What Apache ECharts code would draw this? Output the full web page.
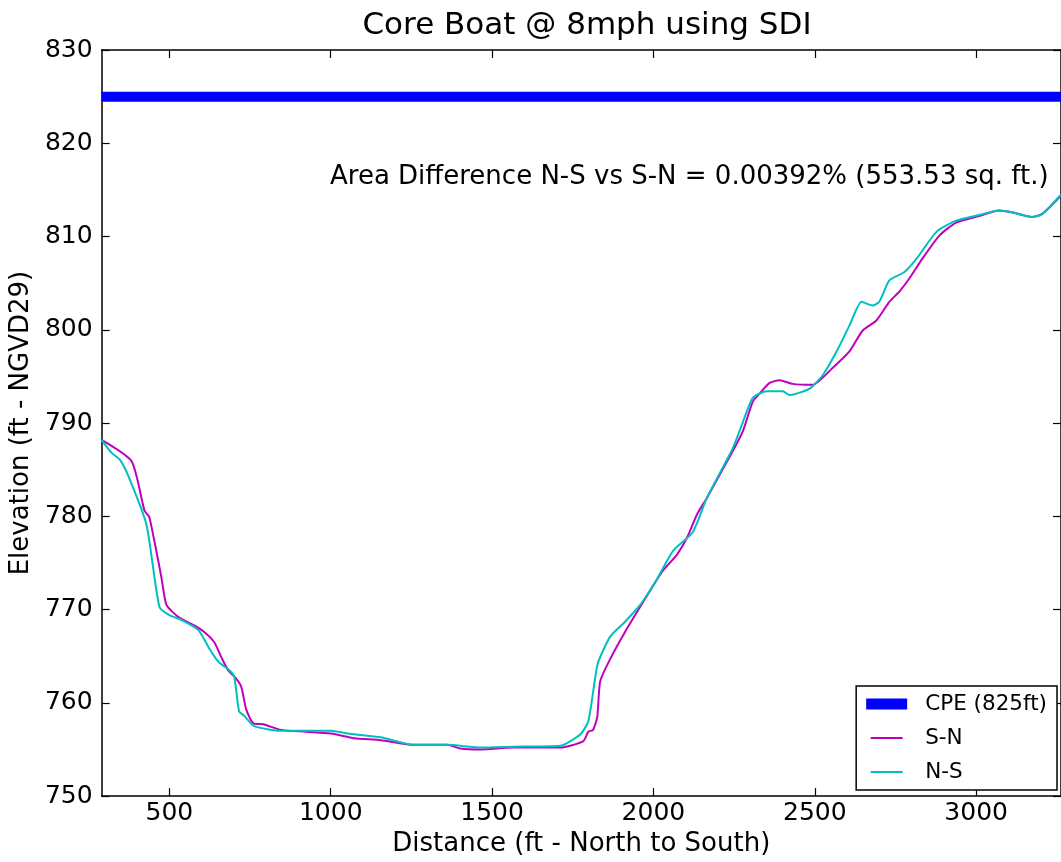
<!DOCTYPE html>
<html>
<head>
<meta charset="utf-8">
<script src="https://cdn.jsdelivr.net/npm/echarts@6/dist/echarts.min.js"></script>
<style>
html,body{margin:0;padding:0;background:#fff;}
#chart{width:1061px;height:862px;}
</style>
</head>
<body>
<div id="chart"></div>
<script>
// ---- data ----
const xTicks = [500, 1000, 1500, 2000, 2500, 3000];
const cpeLevel = 825;
const cpeRange = [290, 3263];
const snX = [290, 383, 423, 438, 475, 491, 528, 577, 608, 639, 661, 682, 707, 723, 738, 760, 791, 846, 1001, 1072, 1155, 1257, 1362, 1402, 1464, 1566, 1711, 1783, 1798, 1813, 1826, 1835, 1866, 1912, 1959, 2005, 2030, 2073, 2104, 2135, 2166, 2246, 2277, 2308, 2330, 2360, 2391, 2432, 2493, 2555, 2608, 2648, 2691, 2731, 2762, 2793, 2833, 2886, 2938, 3009, 3071, 3111, 3173, 3204, 3263];
const snY = [788.2, 785.9, 780.6, 779.9, 773.5, 770.5, 769.2, 768.3, 767.6, 766.5, 764.9, 763.5, 762.6, 761.7, 759.3, 757.8, 757.7, 757.1, 756.7, 756.2, 756.0, 755.5, 755.5, 755.1, 755.0, 755.2, 755.2, 755.9, 756.9, 757.1, 758.5, 762.3, 764.7, 767.6, 770.3, 772.9, 774.2, 775.9, 777.7, 780.2, 782.0, 787.0, 789.1, 792.3, 793.2, 794.3, 794.6, 794.2, 794.1, 795.9, 797.7, 799.9, 801.0, 803.0, 804.1, 805.5, 807.6, 810.1, 811.5, 812.2, 812.8, 812.6, 812.1, 812.4, 814.4];
const nsX = [290, 321, 346, 373, 429, 469, 500, 537, 590, 624, 652, 686, 701, 716, 732, 763, 846, 1001, 1053, 1155, 1257, 1362, 1464, 1566, 1711, 1773, 1798, 1820, 1829, 1866, 1912, 1959, 2005, 2061, 2122, 2166, 2246, 2274, 2308, 2351, 2401, 2422, 2484, 2524, 2568, 2608, 2645, 2679, 2700, 2731, 2778, 2815, 2877, 2938, 3009, 3071, 3111, 3173, 3204, 3263];
const nsY = [788.2, 786.8, 786.1, 784.3, 779.1, 770.3, 769.4, 768.9, 767.8, 765.8, 764.4, 763.5, 762.8, 759.1, 758.6, 757.5, 757.0, 757.0, 756.7, 756.3, 755.5, 755.5, 755.2, 755.3, 755.4, 756.6, 758.0, 762.8, 764.4, 767.1, 768.7, 770.5, 772.9, 776.3, 778.3, 782.0, 787.3, 789.8, 792.7, 793.4, 793.4, 793.0, 793.7, 795.1, 797.7, 800.5, 803.0, 802.6, 803.0, 805.3, 806.2, 807.6, 810.5, 811.7, 812.3, 812.8, 812.6, 812.1, 812.4, 814.5];

const zip = (xs, ys) => xs.map((x, i) => [x, ys[i]]);
const FONT = 'DejaVu Sans';
const AX = '#000';

const chart = echarts.init(document.getElementById('chart'), null, {renderer: 'canvas'});
const thinIcon = 'path://M0,0 M41,11 M4.5,4.5 H36.5 V6.5 H4.5 Z';

const baseX = {
  type: 'value', min: cpeRange[0], max: cpeRange[1],
  axisLine: {show: true, onZero: false, lineStyle: {color: AX, width: 1.5}},
  axisTick: {show: true, inside: true, length: 8, customValues: xTicks, lineStyle: {color: AX, width: 1.2}},
  splitLine: {show: false}
};
const baseY = {
  type: 'value', min: 750, max: 830, interval: 10,
  axisLine: {show: true, onZero: false, lineStyle: {color: AX, width: 1.5}},
  axisTick: {show: true, inside: true, length: 8, lineStyle: {color: AX, width: 1.2}},
  splitLine: {show: false}
};

chart.setOption({
  animation: false,
  backgroundColor: '#fff',
  title: {
    text: 'Core Boat @ 8mph using SDI',
    left: 582, top: 5, textAlign: 'center',
    textStyle: {fontFamily: FONT, fontSize: 31, fontWeight: 'normal', color: '#000'}
  },
  grid: {left: 98, right: -1, top: 50, bottom: 62},
  xAxis: [
    Object.assign({}, baseX, {
      position: 'bottom',
      name: 'Distance (ft - North to South)', nameLocation: 'middle', nameGap: 34,
      nameTextStyle: {fontFamily: FONT, fontSize: 26, color: '#000'},
      axisLabel: {show: true, customValues: xTicks, margin: 5, fontFamily: FONT, fontSize: 25, color: '#000',
                  formatter: v => String(v)}
    }),
    Object.assign({}, baseX, {position: 'top', axisLabel: {show: false}})
  ],
  yAxis: [
    Object.assign({}, baseY, {
      position: 'left',
      name: 'Elevation (ft - NGVD29)', nameLocation: 'middle', nameGap: 66,
      nameTextStyle: {fontFamily: FONT, fontSize: 26, color: '#000'},
      axisLabel: {show: true, margin: 9, fontFamily: FONT, fontSize: 25, color: '#000',
                  formatter: v => String(v)}
    }),
    Object.assign({}, baseY, {position: 'right', axisLabel: {show: false}})
  ],
  legend: {
    orient: 'vertical', right: 4, bottom: 72,
    backgroundColor: '#fff', borderColor: '#000', borderWidth: 1.5, borderRadius: 0,
    padding: [7, 10, 7, 10], itemGap: 12, itemWidth: 41, itemHeight: 11,
    textStyle: {fontFamily: FONT, fontSize: 21.5, color: '#000', padding: [0, 0, 0, 13]},
    data: [
      {name: 'CPE (825ft)', icon: 'rect'},
      {name: 'S-N', icon: thinIcon},
      {name: 'N-S', icon: thinIcon}
    ]
  },
  graphic: [{
    type: 'text', left: 330, top: 164, z: 10,
    style: {text: 'Area Difference N-S vs S-N = 0.00392% (553.53 sq. ft.)', font: '26px "DejaVu Sans"', fill: '#000'}
  }],
  series: [
    {name: 'CPE (825ft)', type: 'line', data: cpeRange.map(x => [x, cpeLevel]), symbol: 'none',
     lineStyle: {color: '#0000ff', width: 10}, itemStyle: {color: '#0000ff'}},
    {name: 'S-N', type: 'line', data: zip(snX, snY), symbol: 'none', smooth: 0.2,
     lineStyle: {color: '#bf00bf', width: 2}, itemStyle: {color: '#bf00bf'}},
    {name: 'N-S', type: 'line', data: zip(nsX, nsY), symbol: 'none', smooth: 0.2,
     lineStyle: {color: '#00bfbf', width: 2}, itemStyle: {color: '#00bfbf'}}
  ]
});
</script>
</body>
</html>
